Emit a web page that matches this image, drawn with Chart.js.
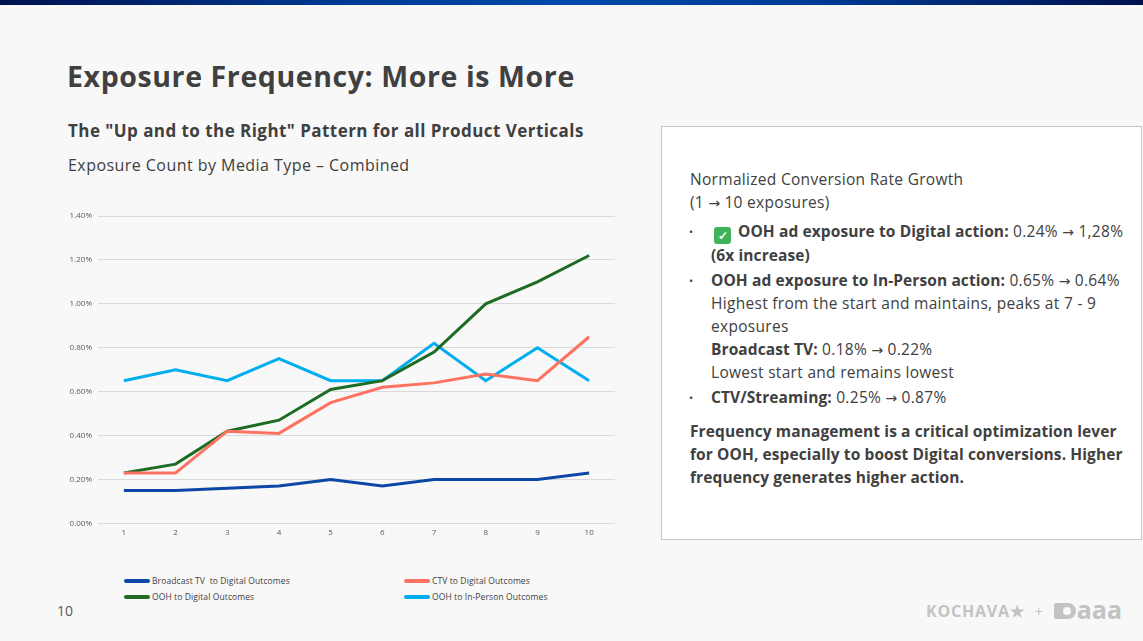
<!DOCTYPE html>
<html>
<head>
<meta charset="utf-8">
<script src="https://cdn.jsdelivr.net/npm/chart.js@4.4.1/dist/chart.umd.min.js"></script>
<style>
  html, body { margin: 0; padding: 0; }
  body {
    width: 1143px; height: 641px; position: relative; overflow: hidden;
    background: #f8f8f8; color: #404040; font-family: "Open Sans", sans-serif;
  }
  .topbar {
    position: absolute; left: 0; top: 0; width: 1143px; height: 5px;
    background: linear-gradient(90deg, #00124f 0%, #003a93 30%, #004aaa 50%, #003a93 72%, #00124f 100%);
  }
  .title { position: absolute; left: 67px; top: 57px; font-size: 28.5px; letter-spacing: 0.6px; font-weight: 700; white-space: nowrap; }
  .subtitle { position: absolute; left: 68px; top: 119px; font-size: 17px; letter-spacing: 0.45px; font-weight: 700; white-space: nowrap; }
  .caption { position: absolute; left: 68px; top: 154px; font-size: 16px; letter-spacing: 0.45px; white-space: nowrap; }
  #chartWrap { position: absolute; left: 60px; top: 200px; width: 560px; height: 345px; }
  #legend { position: absolute; left: 0; top: 0; width: 0; height: 0; }
  .lg-item { position: absolute; display: flex; align-items: center; font-size: 8.5px; letter-spacing: 0.1px; white-space: pre; color: #404040; }
  .lg-swatch { width: 26px; height: 4px; border-radius: 2px; margin-right: 2px; }
  .pagenum { position: absolute; left: 57px; top: 601px; font-size: 14px; color: #595959; }
  .box {
    position: absolute; left: 661px; top: 126px; width: 479px; height: 412px;
    background: #ffffff; border: 1px solid #c6c6c6;
  }
  .ln { position: absolute; left: 690px; height: 23px; line-height: 23px; font-size: 15.5px; letter-spacing: 0.3px; white-space: nowrap; color: #404040; }
  .ln b { letter-spacing: 0.1px; }
  .ln.ind { left: 711px; }
  .arr { font-family: "DejaVu Sans", sans-serif; font-size: 14px; letter-spacing: 0; }
  .bul { position: absolute; left: 689px; height: 23px; line-height: 23px; font-size: 11px; color: #404040; }
  .chk {
    display: inline-block; width: 17px; height: 17px; border-radius: 3px; background: #3fb35a;
    color: #fff; font-size: 12px; line-height: 17px; text-align: center; vertical-align: -3px;
    margin-right: 7px; font-weight: 700; letter-spacing: 0;
  }
  b { font-weight: 700; }
  .logos { position: absolute; left: 926px; top: 599px; height: 24px; display: flex; align-items: center; color: #c3c3c3; white-space: nowrap; }
  .kochava { font-size: 16px; font-weight: 700; letter-spacing: 0.8px; }
  .plus { font-size: 14px; margin: 0 11px 0 10px; }
  .aaaMark { width: 22px; height: 16px; background: #c3c3c3; border-radius: 2px 8px 8px 2px; position: relative; margin-right: 1px; }
  .aaaMark::after { content: ""; position: absolute; left: 9px; top: 4px; width: 8px; height: 8px; border-radius: 50%; background: #f8f8f8; }
  .aaa { font-size: 25px; font-weight: 700; letter-spacing: 0; line-height: 24px; margin-top: -4px; }
</style>
</head>
<body>
<div class="topbar"></div>
<div class="title">Exposure Frequency: More is More</div>
<div class="subtitle">The "Up and to the Right" Pattern for all Product Verticals</div>
<div class="caption">Exposure Count by Media Type – Combined</div>

<div id="chartWrap"><canvas id="exposureChart"></canvas></div>
<div id="legend"></div>

<div class="pagenum">10</div>

<div class="box"></div>
<div class="ln" style="top:168px">Normalized Conversion Rate Growth</div>
<div class="ln" style="top:191px">(1 <span class="arr">→</span> 10 exposures)</div>
<div class="bul" style="top:220px">•</div>
<div class="ln" style="top:220px; left:714px"><span class="chk">✓</span><b>OOH ad exposure to Digital action:</b> 0.24% <span class="arr">→</span> 1,28%</div>
<div class="ln ind" style="top:244px"><b>(6x increase)</b></div>
<div class="bul" style="top:269px">•</div>
<div class="ln ind" style="top:269px"><b>OOH ad exposure to In-Person action:</b> 0.65% <span class="arr">→</span> 0.64%</div>
<div class="ln ind" style="top:292px">Highest from the start and maintains, peaks at 7 - 9</div>
<div class="ln ind" style="top:315px">exposures</div>
<div class="ln ind" style="top:338px"><b>Broadcast TV:</b> 0.18% <span class="arr">→</span> 0.22%</div>
<div class="ln ind" style="top:361px">Lowest start and remains lowest</div>
<div class="bul" style="top:386px">•</div>
<div class="ln ind" style="top:386px"><b>CTV/Streaming:</b> 0.25% <span class="arr">→</span> 0.87%</div>
<div class="ln" style="top:420px"><b>Frequency management is a critical optimization lever</b></div>
<div class="ln" style="top:443px"><b>for OOH, especially to boost Digital conversions. Higher</b></div>
<div class="ln" style="top:466px"><b>frequency generates higher action.</b></div>

<div class="logos">
  <span class="kochava">KOCHAVA★</span><span class="plus">+</span><span class="aaaMark"></span><span class="aaa">aaa</span>
</div>

<script>
// exposure count 1..10
const exposures = ['1', '2', '3', '4', '5', '6', '7', '8', '9', '10'];

// conversion rate, in percent
const broadcastDigital = [0.15, 0.15, 0.16, 0.17, 0.20, 0.17, 0.20, 0.20, 0.20, 0.23];
const ctvDigital = [0.23, 0.23, 0.42, 0.41, 0.55, 0.62, 0.64, 0.68, 0.65, 0.85];
const oohDigital = [0.23, 0.27, 0.42, 0.47, 0.61, 0.65, 0.78, 1.00, 1.10, 1.22];
const oohInPerson = [0.65, 0.70, 0.65, 0.75, 0.65, 0.65, 0.82, 0.65, 0.80, 0.65];

const seriesLabels = [
    'Broadcast TV  to Digital Outcomes',
    'CTV to Digital Outcomes',
    'OOH to Digital Outcomes',
    'OOH to In-Person Outcomes',
];

const yTicks = [0, 0.2, 0.4, 0.6, 0.8, 1.0, 1.2, 1.4];

const colors = ['#0b48a6', '#ff7262', '#1e6b24', '#00aeef'];

const makeSet = (label, data, color) => ({
    label,
    data,
    borderColor: color,
    backgroundColor: color,
    borderWidth: 3,
    pointRadius: 0,
    tension: 0,
    fill: false,
});

const ctx = document.getElementById('exposureChart').getContext('2d');
const chart = new Chart(ctx, {
    type: 'line',
    data: {
        labels: exposures,
        datasets: [
            makeSet(seriesLabels[0], broadcastDigital, colors[0]),
            makeSet(seriesLabels[1], ctvDigital, colors[1]),
            makeSet(seriesLabels[2], oohDigital, colors[2]),
            makeSet(seriesLabels[3], oohInPerson, colors[3]),
        ],
    },
    options: {
        responsive: true,
        maintainAspectRatio: false,
        animation: false,
        layout: { padding: { top: 16, right: 5, bottom: 2, left: 0 } },
        plugins: {
            legend: { display: false },
            tooltip: { enabled: false },
        },
        scales: {
            x: {
                offset: true,
                grid: { display: false, drawTicks: false },
                border: { display: false },
                ticks: {
                    color: '#595959',
                    font: { family: 'Open Sans', size: 8 },
                    padding: 5,
                    maxRotation: 0,
                },
            },
            y: {
                min: 0,
                max: 1.4,
                afterBuildTicks: scale => {
                    scale.ticks = yTicks.map(v => ({ value: v }));
                },
                afterFit: scale => {
                    scale.width = 38;
                },
                grid: { color: '#d9d9d9', lineWidth: 1, drawTicks: false },
                border: { display: false },
                ticks: {
                    color: '#595959',
                    font: { family: 'Open Sans', size: 8 },
                    padding: 6,
                    callback: v => v.toFixed(2) + '%',
                },
            },
        },
    },
});

// two-column legend under the chart, built from the datasets
const legendPos = [
    { left: 124, top: 575 },
    { left: 404, top: 575 },
    { left: 124, top: 591 },
    { left: 404, top: 591 },
];
const legendEl = document.getElementById('legend');
chart.data.datasets.forEach((ds, i) => {
    const item = document.createElement('div');
    item.className = 'lg-item';
    item.style.left = legendPos[i].left + 'px';
    item.style.top = legendPos[i].top + 'px';
    const sw = document.createElement('span');
    sw.className = 'lg-swatch';
    sw.style.background = ds.borderColor;
    const txt = document.createElement('span');
    txt.textContent = ds.label;
    item.appendChild(sw);
    item.appendChild(txt);
    legendEl.appendChild(item);
});
</script>
</body>
</html>
